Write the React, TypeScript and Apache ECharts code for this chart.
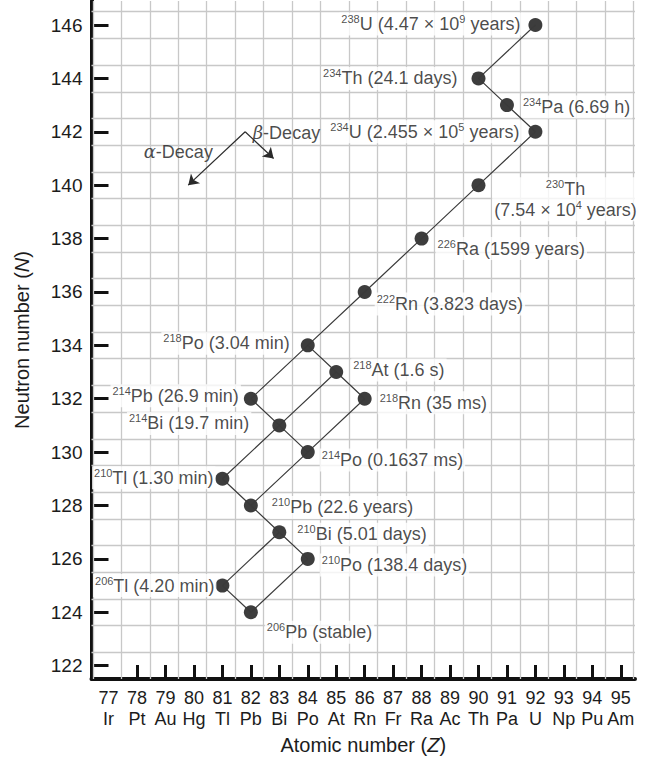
import React, { useEffect, useRef } from 'react';
import * as echarts from 'echarts';

// ---------- data ----------
const atomicNumbers = [77, 78, 79, 80, 81, 82, 83, 84, 85, 86, 87, 88, 89, 90, 91, 92, 93, 94, 95];
const elementSymbols = ['Ir', 'Pt', 'Au', 'Hg', 'Tl', 'Pb', 'Bi', 'Po', 'At', 'Rn', 'Fr', 'Ra', 'Ac', 'Th', 'Pa', 'U', 'Np', 'Pu', 'Am'];
const xTickValues = [78, 79, 80, 81, 82, 83, 84, 85, 86, 87, 88, 89, 90, 91, 92, 93, 94, 95];
const neutronTicks = [122, 124, 126, 128, 130, 132, 134, 136, 138, 140, 142, 144, 146];

const nuclideIds = ['U238', 'Th234', 'Pa234', 'U234', 'Th230', 'Ra226', 'Rn222', 'Po218', 'At218', 'Pb214', 'Rn218', 'Bi214', 'Po214', 'Tl210', 'Pb210', 'Bi210', 'Po210', 'Tl206', 'Pb206'];
const nuclideZ = [92, 90, 91, 92, 90, 88, 86, 84, 85, 82, 86, 83, 84, 81, 82, 83, 84, 81, 82];
const nuclideN = [146, 144, 143, 142, 140, 138, 136, 134, 133, 132, 132, 131, 130, 129, 128, 127, 126, 125, 124];
const massNumbers = [238, 234, 234, 234, 230, 226, 222, 218, 218, 214, 218, 214, 214, 210, 210, 210, 210, 206, 206];
const halfLives = ['4.47 × 10^9 years', '24.1 days', '6.69 h', '2.455 × 10^5 years', '7.54 × 10^4 years', '1599 years', '3.823 days', '3.04 min', '1.6 s', '26.9 min', '35 ms', '19.7 min', '0.1637 ms', '1.30 min', '22.6 years', '5.01 days', '138.4 days', '4.20 min', 'stable'];

const alphaPaths = [
  ['U238', 'Th234'],
  ['U234', 'Th230', 'Ra226', 'Rn222', 'Po218', 'Pb214'],
  ['At218', 'Bi214', 'Tl210'],
  ['Rn218', 'Po214', 'Pb210'],
  ['Bi210', 'Tl206'],
  ['Po210', 'Pb206'],
];
const betaPaths = [
  ['Th234', 'Pa234', 'U234'],
  ['Po218', 'At218', 'Rn218'],
  ['Pb214', 'Bi214', 'Po214'],
  ['Tl210', 'Pb210', 'Bi210', 'Po210'],
  ['Tl206', 'Pb206'],
];

// legend arrows (in Z, N)
const arrowVertex = [81.8, 142];
const alphaArrowEnd = [79.8, 140];
const betaArrowEnd = [82.8, 141];
const annotationTexts = ['{g|α}{m|-Decay}', '{g|β}{m|-Decay}'];
const annotationZ = [79.45, 83.25];
const annotationN = [141.25, 141.97];

// ---------- layout / style ----------
const FONT = "'Liberation Sans', Arial, Helvetica, sans-serif";
const INK = '#1c1c1c';
const SYMBOL = 14;
const X_MIN = 76.4;
const X_MAX = 95.5;
const Y_MIN = 121.5;
const Y_MAX = 146.9;
const GRID_OFFSET_Z = 0.55;
// side, gap from dot centre (px), vertical shift (px)
const labelPlacement: Record<string, [string, number, number]> = {
  U238: ['L', 13, -1],
  Th234: ['L', 19, 0],
  Pa234: ['R', 14, 2],
  U234: ['L', 14, 0],
  Th230: ['C', 87, 14],
  Ra226: ['R', 14, 10],
  Rn222: ['R', 10, 12],
  Po218: ['L', 16, -2],
  At218: ['R', 15, -2],
  Pb214: ['L', 10, -3],
  Rn218: ['R', 13, 4],
  Bi214: ['L', 28, -2],
  Po214: ['R', 12, 8],
  Tl210: ['L', 7, -1],
  Pb210: ['R', 19, 2],
  Bi210: ['R', 16, 2],
  Po210: ['R', 12, 6],
  Tl206: ['L', 6, 0],
  Pb206: ['R', 14, 20],
};

const richStyles = {
  m: { fontSize: 18, lineHeight: 21, color: INK, fontFamily: FONT },
  sup: { fontSize: 11, lineHeight: 11, color: INK, fontFamily: FONT, verticalAlign: 'top' },
};

function elementOf(z: number) {
  return elementSymbols[atomicNumbers.indexOf(z)];
}

function halfLifeRich(s: string) {
  return s.replace(/\^(\d+)/g, '}{sup|$1}{m|');
}

function labelText(i: number, stacked: boolean) {
  const sym = elementOf(nuclideZ[i]);
  const hl = halfLifeRich(halfLives[i]);
  if (stacked) return `{sup|${massNumbers[i]}}{m|${sym}}\n{m|(${hl})}`;
  return `{sup|${massNumbers[i]}}{m|${sym} (${hl})}`;
}

function coordOf(id: string) {
  const i = nuclideIds.indexOf(id);
  return [nuclideZ[i], nuclideN[i]];
}

export default function App() {
  const ref = useRef<HTMLDivElement>(null);

  useEffect(() => {
    if (!ref.current) return;
    const chart = echarts.init(ref.current, undefined, { renderer: 'svg' });

    const half = SYMBOL / 2;
    const nuclideData = nuclideIds.map((id, i) => {
      const [side, gap, dy] = labelPlacement[id];
      const stacked = side === 'C';
      const px = side === 'L' ? half - gap : half + gap;
      return {
        name: id,
        value: [nuclideZ[i], nuclideN[i]],
        label: {
          show: true,
          position: [px, half + dy],
          align: side === 'L' ? 'right' : side === 'R' ? 'left' : 'center',
          verticalAlign: 'middle',
          color: INK,
          formatter: labelText(i, stacked),
          backgroundColor: '#ffffff',
          padding: [1, 2],
          rich: richStyles,
        },
      };
    });

    const pathSeries = [...alphaPaths, ...betaPaths].map((p, k) => ({
      type: 'line',
      name: 'path' + k,
      data: p.map(coordOf),
      symbol: 'none',
      silent: true,
      z: 4,
      lineStyle: { color: '#3a3a3a', width: 1.2 },
    }));

    const gridLines: any[] = [];
    [...atomicNumbers, 96].forEach((z) => {
      const v = z - GRID_OFFSET_Z;
      if (v > X_MIN && v < X_MAX) gridLines.push([{ coord: [v, Y_MIN] }, { coord: [v, Y_MAX] }]);
    });
    [...neutronTicks, ...neutronTicks.map((n) => n + 1)].forEach((n) => {
      const v = n + 0.5;
      if (v > Y_MIN && v < Y_MAX) gridLines.push([{ coord: [X_MIN, v] }, { coord: [X_MAX, v] }]);
    });

    const option = {
      animation: false,
      backgroundColor: '#ffffff',
      textStyle: { fontFamily: FONT },
      grid: { left: 91.5, right: 10, top: 1, bottom: 86, containLabel: false },
      xAxis: {
        type: 'value',
        min: X_MIN,
        max: X_MAX,
        name: '{a|Atomic number (}{i|Z}{a|)}',
        nameLocation: 'middle',
        nameGap: 56,
        nameTextStyle: {
          rich: {
            a: { fontSize: 20, color: INK, fontFamily: FONT },
            i: { fontSize: 20, color: INK, fontFamily: FONT, fontStyle: 'italic' },
          },
        },
        axisLine: { show: true, onZero: false, lineStyle: { color: '#111', width: 4 } },
        axisTick: { show: true, inside: true, length: 14, customValues: xTickValues, lineStyle: { color: '#111', width: 3 } },
        axisLabel: {
          show: true,
          customValues: atomicNumbers,
          margin: 8,
          fontSize: 18,
          lineHeight: 21,
          color: INK,
          fontFamily: FONT,
          formatter: (v: number) => `${v}\n${elementOf(Math.round(v))}`,
        },
        splitLine: { show: false },
      },
      yAxis: {
        type: 'value',
        min: Y_MIN,
        max: Y_MAX,
        name: '{a|Neutron number (}{i|N}{a|)}',
        nameLocation: 'middle',
        nameGap: 60,
        nameTextStyle: {
          rich: {
            a: { fontSize: 20, color: INK, fontFamily: FONT },
            i: { fontSize: 20, color: INK, fontFamily: FONT, fontStyle: 'italic' },
          },
        },
        axisLine: { show: true, onZero: false, lineStyle: { color: '#111', width: 4 } },
        axisTick: { show: true, inside: true, length: 17, customValues: neutronTicks, lineStyle: { color: '#111', width: 3 } },
        axisLabel: {
          show: true,
          customValues: neutronTicks,
          margin: 9,
          fontSize: 19,
          color: INK,
          fontFamily: FONT,
        },
        splitLine: { show: false },
      },
      series: [
        {
          type: 'line',
          name: 'grid',
          data: [],
          silent: true,
          z: 1,
          markLine: {
            z: 1,
            silent: true,
            symbol: ['none', 'none'],
            label: { show: false },
            lineStyle: { color: '#c8c8c8', width: 1.3, type: 'solid' },
            emphasis: { disabled: true },
            data: gridLines,
          },
        },
        {
          type: 'line',
          name: 'arrows',
          data: [],
          silent: true,
          z: 4,
          markLine: {
            z: 4,
            silent: true,
            symbol: ['none', 'arrow'],
            symbolSize: 10,
            label: { show: false },
            lineStyle: { color: '#2a2a2a', width: 1.2, type: 'solid' },
            emphasis: { disabled: true },
            data: [
              [{ coord: arrowVertex, symbol: 'none' }, { coord: alphaArrowEnd, symbol: 'arrow', symbolSize: 10 }],
              [{ coord: arrowVertex, symbol: 'none' }, { coord: betaArrowEnd, symbol: 'arrow', symbolSize: 10 }],
            ],
          },
        },
        ...pathSeries,
        {
          type: 'scatter',
          name: 'nuclides',
          symbol: 'circle',
          symbolSize: SYMBOL,
          z: 3,
          itemStyle: { color: '#0d0d0d' },
          data: nuclideData,
        },
        {
          type: 'scatter',
          name: 'annotations',
          symbolSize: 0,
          z: 3,
          silent: true,
          data: annotationTexts.map((t, i) => ({
            value: [annotationZ[i], annotationN[i]],
            label: {
              show: true,
              position: 'inside',
              color: INK,
              formatter: t,
              rich: {
                g: { fontSize: 18, color: INK, fontStyle: 'italic', fontFamily: "'DejaVu Serif', serif" },
                m: { fontSize: 18, color: INK, fontFamily: FONT },
              },
            },
          })),
        },
      ],
    };

    chart.setOption(option as any);
    return () => chart.dispose();
  }, []);

  return (
    <div
      ref={ref}
      style={{ position: 'fixed', left: 0, top: 0, width: 645, height: 765, background: '#fff' }}
    />
  );
}
